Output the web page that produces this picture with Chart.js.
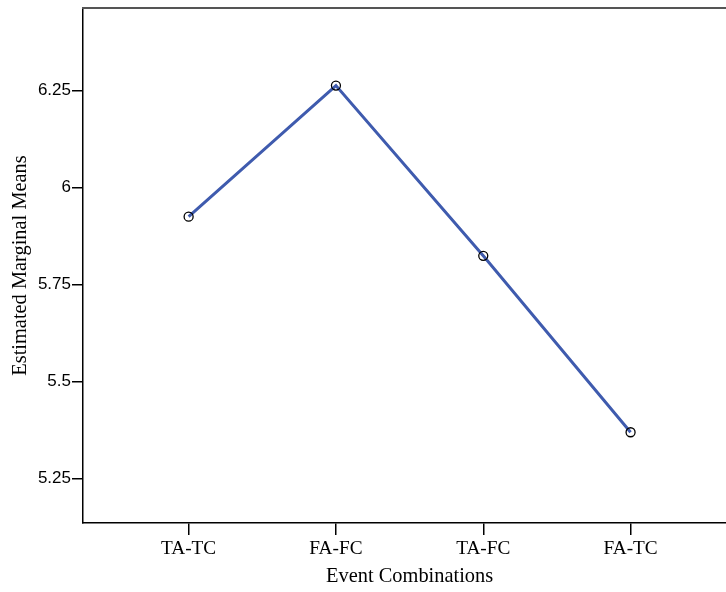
<!DOCTYPE html>
<html>
<head>
<meta charset="utf-8">
<script src="https://cdn.jsdelivr.net/npm/chart.js@4/dist/chart.umd.min.js"></script>
<style>
  html, body { margin: 0; padding: 0; background: #fff; overflow: hidden; }
  /* 元の図は右端が切れているので、少し広く描いて切り落とす */
  #emm-chart { display: block; width: 742px; height: 592px; }
</style>
</head>
<body>
<canvas id="emm-chart" width="742" height="592"></canvas>
<script>
// ---- data ----
const categories = ["TA-TC", "FA-FC", "TA-FC", "FA-TC"];
const meanValues = [5.925, 6.263, 5.824, 5.369];
const yTickValues = [5.25, 5.5, 5.75, 6, 6.25];
const yTickLabels = ["5.25", "5.5", "5.75", "6", "6.25"];

// top frame line (SPSS style grey)
const topFrame = {
  id: "topFrame",
  afterDraw(chart) {
    const { ctx, chartArea } = chart;
    ctx.save();
    ctx.strokeStyle = "#555";
    ctx.lineWidth = 2.2;
    ctx.beginPath();
    ctx.moveTo(chartArea.left - 1, chartArea.top);
    ctx.lineTo(chartArea.right, chartArea.top);
    ctx.stroke();
    ctx.restore();
  }
};

const ctx = document.getElementById("emm-chart").getContext("2d");
new Chart(ctx, {
  type: "line",
  data: {
    datasets: [{
      data: meanValues.map((v, i) => ({ x: i, y: v })),
      borderColor: "#3f5bae",
      borderWidth: 3,
      tension: 0,
      pointRadius: 4.5,
      pointBorderColor: "#000",
      pointBorderWidth: 1.3,
      pointBackgroundColor: "rgba(0,0,0,0)",
      fill: false,
    }]
  },
  options: {
    responsive: false,
    animation: false,
    devicePixelRatio: 1,
    layout: { padding: { top: 8, right: 0, left: 0, bottom: 0 } },
    plugins: {
      legend: { display: false },
      tooltip: { enabled: false },
    },
    scales: {
      x: {
        type: "linear",
        min: -0.717,
        max: 3.717,
        afterBuildTicks: (scale) => {
          scale.ticks = categories.map((c, i) => ({ value: i }));
        },
        afterFit: (scale) => {
          scale.height = 69;
          scale.paddingLeft = 0;
          scale.paddingRight = 0;
        },
        grid: { drawOnChartArea: false, drawTicks: true, tickLength: 12, color: "#000", lineWidth: 1.5 },
        border: { display: true, color: "#000", width: 1.5 },
        ticks: {
          autoSkip: false,
          maxRotation: 0,
          padding: 2,
          color: "#000",
          font: { family: "'Liberation Serif', 'Times New Roman', serif", size: 19.3 },
          callback: (v) => categories[v],
        },
        title: {
          display: true,
          text: "Event Combinations",
          color: "#000",
          padding: { top: 0, bottom: 3 },
          font: { family: "'Liberation Serif', 'Times New Roman', serif", size: 20.4 },
        },
      },
      y: {
        min: 5.135,
        max: 6.463,
        afterBuildTicks: (scale) => {
          scale.ticks = yTickValues.map(v => ({ value: v }));
        },
        afterFit: (scale) => {
          scale.width = 83;
          scale.paddingTop = 0;
          scale.paddingBottom = 0;
        },
        grid: { drawOnChartArea: false, drawTicks: true, tickLength: 11, color: "#000", lineWidth: 1.5 },
        border: { display: true, color: "#000", width: 1.5 },
        ticks: {
          padding: 1,
          color: "#000",
          font: { family: "'Liberation Sans', Arial, sans-serif", size: 17 },
          callback: (v) => yTickLabels[yTickValues.indexOf(v)],
        },
        title: {
          display: true,
          text: "Estimated Marginal Means",
          color: "#000",
          padding: { top: 8, bottom: 0 },
          font: { family: "'Liberation Serif', 'Times New Roman', serif", size: 20.4 },
        },
      },
    },
  },
  plugins: [topFrame],
});
</script>
</body>
</html>
